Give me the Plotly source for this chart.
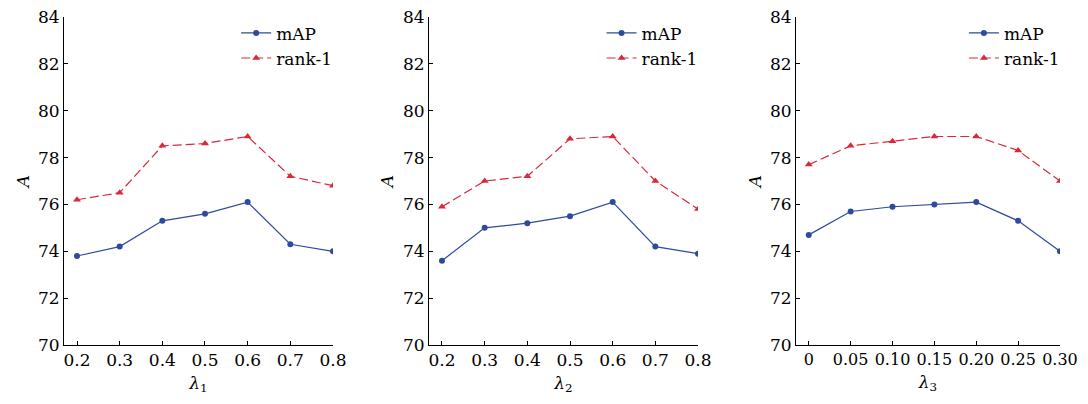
import plotly.graph_objs as go
from plotly.subplots import make_subplots

# lambda values per panel
lam1 = [0.2, 0.3, 0.4, 0.5, 0.6, 0.7, 0.8]
lam2 = [0.2, 0.3, 0.4, 0.5, 0.6, 0.7, 0.8]
lam3 = [0, 0.05, 0.10, 0.15, 0.20, 0.25, 0.30]
lam3_labels = ["0", "0.05", "0.10", "0.15", "0.20", "0.25", "0.30"]

map_1 = [73.8, 74.2, 75.3, 75.6, 76.1, 74.3, 74.0]
rank1_1 = [76.2, 76.5, 78.5, 78.6, 78.9, 77.2, 76.8]
map_2 = [73.6, 75.0, 75.2, 75.5, 76.1, 74.2, 73.9]
rank1_2 = [75.9, 77.0, 77.2, 78.8, 78.9, 77.0, 75.8]
map_3 = [74.7, 75.7, 75.9, 76.0, 76.1, 75.3, 74.0]
rank1_3 = [77.7, 78.5, 78.7, 78.9, 78.9, 78.3, 77.0]

y_ticks = [70, 72, 74, 76, 78, 80, 82, 84]

BLUE = "#2f4a9c"
RED = "#d9283a"
FONT = "DejaVu Serif"
FS = 17

fig = make_subplots(rows=1, cols=3)

panels = [
    (lam1, map_1, rank1_1, "legend"),
    (lam2, map_2, rank1_2, "legend2"),
    (lam3, map_3, rank1_3, "legend3"),
]

for i, (xs, m, r, leg) in enumerate(panels, start=1):
    fig.add_trace(
        go.Scatter(
            x=xs, y=m, name="mAP", mode="lines+markers",
            line=dict(color=BLUE, width=1.2),
            marker=dict(symbol="circle", size=6, color=BLUE),
            legend=leg,
        ),
        row=1, col=i,
    )
    fig.add_trace(
        go.Scatter(
            x=xs, y=r, name="rank-1", mode="lines+markers",
            line=dict(color=RED, width=1.2, dash="9px,4px"),
            marker=dict(symbol="triangle-up", size=7, color=RED),
            legend=leg,
        ),
        row=1, col=i,
    )

# panel placement (paper fractions); page body adds an 8px offset
domains = [[0.0, 0.2687], [0.3646, 0.6334], [0.7313, 0.995]]
x_ranges = [[0.1695, 0.8], [0.1695, 0.8], [-0.0152, 0.30]]
x_titles = ["<i>λ</i><sub>1</sub>", "<i>λ</i><sub>2</sub>", "<i>λ</i><sub>3</sub>"]

for i in range(3):
    tick_size = 16 if i == 2 else FS
    xa = dict(
        domain=domains[i], range=x_ranges[i], automargin=False,
        showline=True, linecolor="black", linewidth=1,
        ticks="inside", ticklen=4, tickcolor="black",
        showgrid=False, zeroline=False, ticklabeloverflow="allow",
        title=dict(text=x_titles[i], standoff=7, font=dict(family=FONT, size=FS, color="black")),
        tickfont=dict(family=FONT, size=tick_size, color="black"),
    )
    if i == 2:
        xa.update(tickvals=lam3, ticktext=lam3_labels)
    else:
        xa.update(tickvals=lam1)
    fig.update_xaxes(row=1, col=i + 1, **xa)
    fig.update_yaxes(
        row=1, col=i + 1,
        range=[70, 84], tickvals=y_ticks, automargin=False,
        showline=True, linecolor="black", linewidth=1,
        ticks="inside", ticklen=4, tickcolor="black",
        showgrid=False, zeroline=False, ticklabeloverflow="allow",
        title=dict(text="<i>A</i>", standoff=4, font=dict(family=FONT, size=FS, color="black")),
        tickfont=dict(family=FONT, size=FS, color="black"),
    )

legend_style = dict(
    font=dict(family=FONT, size=FS, color="black"),
    bgcolor="rgba(0,0,0,0)",
    xanchor="left", yanchor="top", y=1.005,
    tracegroupgap=0, itemwidth=30,
)
fig.update_layout(
    legend=dict(x=0.172, **legend_style),
    legend2=dict(x=0.537, **legend_style),
    legend3=dict(x=0.899, **legend_style),
)

fig.update_layout(
    width=1080, height=388,
    margin=dict(l=56, r=23, t=9, b=51, autoexpand=False),
    plot_bgcolor="white", paper_bgcolor="white",
    font=dict(family=FONT, color="black"),
)

fig.write_html("out.html")
